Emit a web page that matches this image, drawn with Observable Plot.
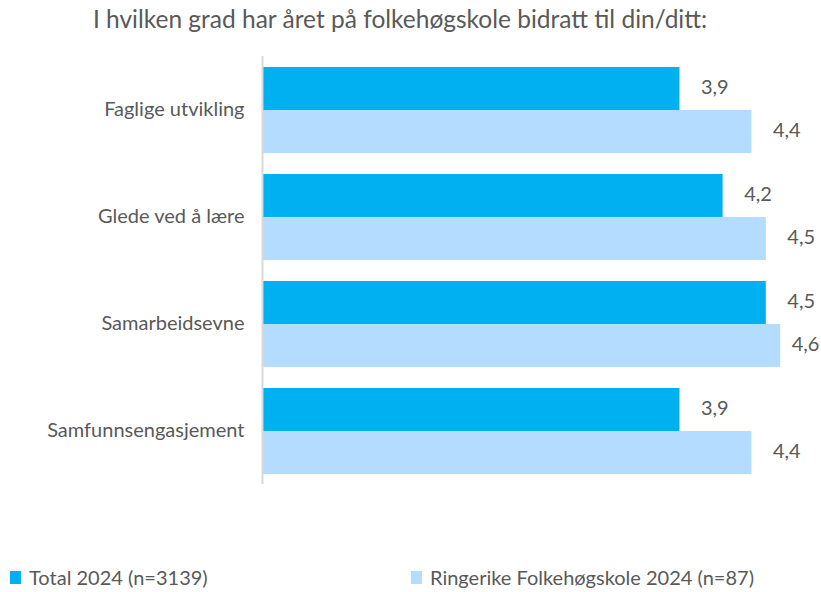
<!DOCTYPE html>
<html>
<head>
<meta charset="utf-8">
<script src="https://cdn.jsdelivr.net/npm/d3@7"></script>
<script src="https://cdn.jsdelivr.net/npm/@observablehq/plot@0.6"></script>
<style>
  body { margin: 0; background: #fff; font-family: Lato, "Open Sans", sans-serif; color: #595959; }
  #wrap { position: relative; width: 821px; height: 592px; overflow: hidden; }
  #title { position: absolute; left: 0; top: 4px; width: 800px; text-align: center; font-size: 24.5px; color: #595959; white-space: nowrap; }
  #chart { position: absolute; left: 0; top: 45px; }
  #chart svg { overflow: visible; }
  .leg { position: absolute; top: 565px; font-size: 20px; display: flex; align-items: center; white-space: nowrap; }
  .sw { display: inline-block; width: 11px; height: 13px; margin-right: 8px; }
</style>
</head>
<body>
<div id="wrap">
  <div id="title">I hvilken grad har året på folkehøgskole bidratt til din/ditt:</div>
  <div id="chart"></div>
  <div class="leg" style="left:10px"><span class="sw" style="background:#00B0F0"></span>Total 2024 (n=3139)</div>
  <div class="leg" style="left:411px"><span class="sw" style="background:#B4DCFF"></span>Ringerike Folkehøgskole 2024 (n=87)</div>
</div>
<script>
const categories = ["Faglige utvikling", "Glede ved å lære", "Samarbeidsevne", "Samfunnsengasjement"];
const seriesNames = ["Total 2024 (n=3139)", "Ringerike Folkehøgskole 2024 (n=87)"];
const totalValues = [3.9, 4.2, 4.5, 3.9];
const ringerikeValues = [4.4, 4.5, 4.6, 4.4];
const colors = ["#00B0F0", "#B4DCFF"];

const data = [];
categories.forEach((c, i) => {
  data.push({category: c, series: seriesNames[0], value: totalValues[i]});
  data.push({category: c, series: seriesNames[1], value: ringerikeValues[i]});
});
const fmt = v => v.toFixed(1).replace(".", ",");
const nearEdge = d => d.value > 4.55;

const chart = Plot.plot({
  width: 821,
  height: 500,
  marginTop: 11,
  marginBottom: 61,
  marginLeft: 262,
  marginRight: 12,
  style: {fontFamily: "Lato, 'Open Sans', sans-serif", fontSize: "20px", color: "#595959", background: "#fff", overflow: "visible"},
  x: {domain: [1, 4.8], axis: null},
  y: {domain: seriesNames, axis: null, paddingInner: 0, paddingOuter: 0.22},
  fy: {domain: categories, label: null, padding: 0, tickSize: 0, tickPadding: 18},
  color: {domain: seriesNames, range: colors},
  marks: [
    Plot.barX(data, {fy: "category", y: "series", x1: 1, x2: "value", fill: "series"}),
    Plot.text(data.filter(d => !nearEdge(d)), {fy: "category", y: "series", x: "value", text: d => fmt(d.value), textAnchor: "start", dx: 21, dy: -1, fill: "#595959", fontSize: 20}),
    Plot.text(data.filter(nearEdge), {fy: "category", y: "series", x: "value", text: d => fmt(d.value), textAnchor: "start", dx: 11, dy: -1, fill: "#595959", fontSize: 20}),
    Plot.ruleX([1], {stroke: "#d9d9d9", strokeWidth: 2})
  ]
});
document.getElementById("chart").appendChild(chart);
</script>
</body>
</html>
